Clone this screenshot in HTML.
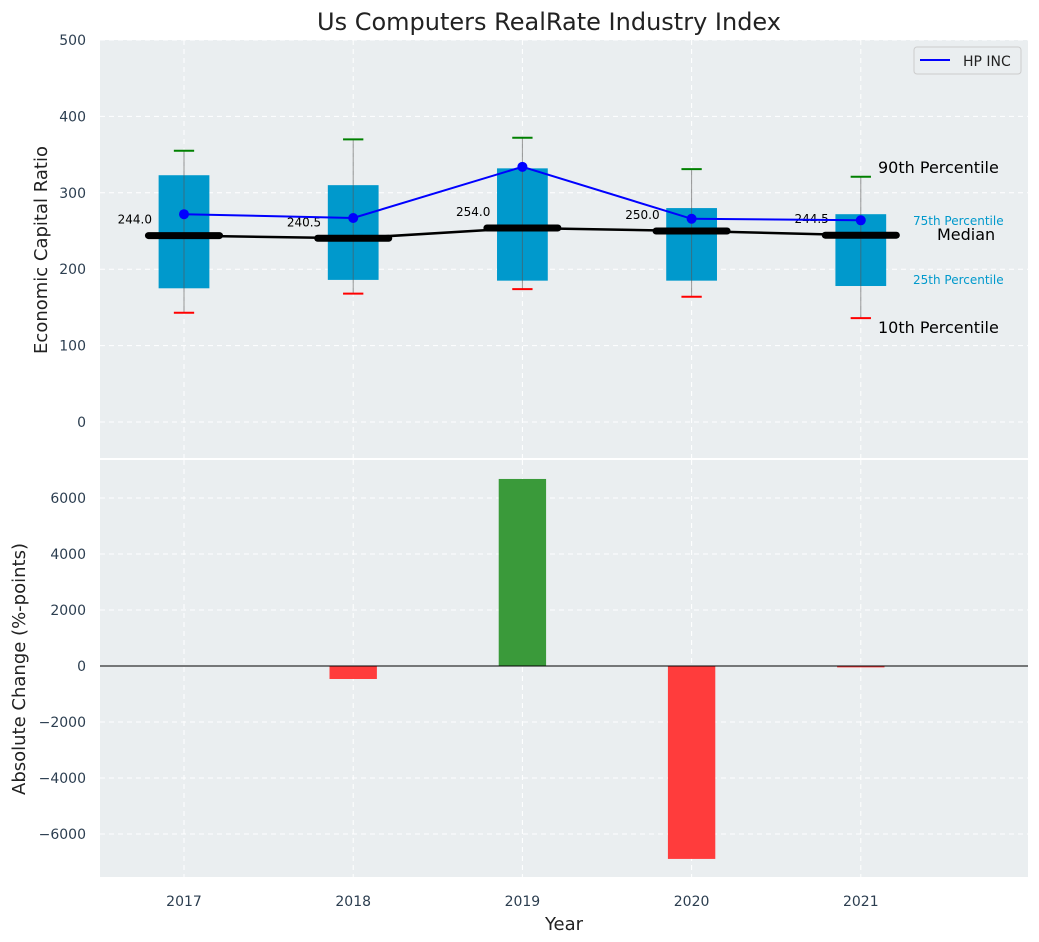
<!DOCTYPE html>
<html><head><meta charset="utf-8"><style>
body{margin:0;background:#fff;}
svg{display:block;font-family:"DejaVu Sans","Liberation Sans",sans-serif;}
</style></head><body>
<svg id="chart" width="1039" height="942" viewBox="0 0 1039 942" xmlns="http://www.w3.org/2000/svg">
<text x="549" y="30" font-size="24" text-anchor="middle" fill="#222">Us Computers RealRate Industry Index</text>
<rect x="100" y="40" width="928" height="418" fill="#eaeef0"/>
<rect x="100" y="460" width="928" height="417" fill="#eaeef0"/>
<g id="topPanel"></g><g id="botPanel"></g>
<text x="47" y="250" font-size="18" fill="#222" text-anchor="middle" transform="rotate(-90 47 250)">Economic Capital Ratio</text>
<text x="25" y="669" font-size="18" fill="#222" text-anchor="middle" transform="rotate(-90 25 669)">Absolute Change (%-points)</text>
<text x="564" y="930" font-size="18" fill="#222" text-anchor="middle">Year</text>
<g>
<rect x="914" y="47" width="107" height="27" rx="3" fill="#eaeef0" stroke="#ccc"/>
<line x1="920" y1="60" x2="950" y2="60" stroke="#0000ff" stroke-width="2"/>
<text x="963" y="66" font-size="14" fill="#222">HP INC</text>
</g>
</svg>
<script>
const years=[2017,2018,2019,2020,2021];
const p10=[143,168,174,164,136];
const q1=[175,186,185,185,178];
const medians=[244.0,240.5,254.0,250.0,244.5];
const q3=[323,310,332,280,272];
const p90=[355,370,372,331,321];
const hp=[272,267,334,266,264];
const changes=[0,-464,6680,-6890,-50];
const topTicks=[0,100,200,300,400,500];
const botTicks=[-6000,-4000,-2000,0,2000,4000,6000];

const NS="http://www.w3.org/2000/svg";
const U=169.2;
const X=v=>184+(v-2017)*U;
const YT=v=>422-v*0.764;
const YB=v=>666-v*0.028;
function mk(p,tag,a,txt){const e=document.createElementNS(NS,tag);for(const k in a)e.setAttribute(k,a[k]);if(txt!==undefined)e.textContent=txt;p.appendChild(e);return e;}
const tp=document.getElementById('topPanel'),bp=document.getElementById('botPanel');
topTicks.forEach(t=>{
 const g=mk(tp,'line',{x1:100,x2:1028,y1:YT(t),y2:YT(t),stroke:'#fff','stroke-dasharray':'5,4','stroke-width':1});
 
 
 const l=mk(tp,'text',{x:86,y:YT(t)+5,'font-size':14,fill:'#2c3e50','text-anchor':'end'},t);
 
 
});
botTicks.forEach(t=>{
 const g=mk(bp,'line',{x1:100,x2:1028,y1:YB(t),y2:YB(t),stroke:'#fff','stroke-dasharray':'5,4','stroke-width':1});
 
 
 const l=mk(bp,'text',{x:86,y:YB(t)+5,'font-size':14,fill:'#2c3e50','text-anchor':'end'},t<0?'\u2212'+(-t):t);
 
 
});
years.forEach(y=>{
 [[40,458],[460,877]].forEach(r=>{
  const g=mk(tp,'line',{x1:X(y),x2:X(y),y1:r[0],y2:r[1],stroke:'#fff','stroke-dasharray':'5,4'});
  
  
 });
 const l=mk(bp,'text',{x:X(y),y:906,'font-size':14,fill:'#2c3e50','text-anchor':'middle'},y);
 
 
});
const bw=0.3*U, mw=0.42*U, cw=0.12*U;
years.forEach((y,i)=>{
 const cx=X(y);
 const b=mk(tp,'rect',{x:cx-bw/2,y:YT(q3[i]),width:bw,height:YT(q1[i])-YT(q3[i]),fill:'#0099cc'});
 
 
 const w=mk(tp,'line',{x1:cx,x2:cx,y1:YT(p10[i]),y2:YT(p90[i]),stroke:'#555','stroke-opacity':0.6,'stroke-width':1});
 
 
 const c1=mk(tp,'line',{x1:cx-cw/2,x2:cx+cw/2,y1:YT(p90[i]),y2:YT(p90[i]),stroke:'#008000','stroke-width':2});
 
 
 const c2=mk(tp,'line',{x1:cx-cw/2,x2:cx+cw/2,y1:YT(p10[i]),y2:YT(p10[i]),stroke:'#ff0000','stroke-width':2});
 
 
});
const ml=mk(tp,'polyline',{points:years.map((y,i)=>X(y)+','+YT(medians[i])).join(' '),fill:'none',stroke:'#000','stroke-width':2.5});


years.forEach((y,i)=>{
 const cx=X(y);
 const m=mk(tp,'line',{x1:cx-mw/2,x2:cx+mw/2,y1:YT(medians[i]),y2:YT(medians[i]),stroke:'#000','stroke-width':7,'stroke-linecap':'round'});
 
 
 const t=mk(tp,'text',{x:cx-32,y:YT(medians[i])-12,'font-size':12,fill:'#000','text-anchor':'end'},medians[i].toFixed(1));
 
 
});
const hl=mk(tp,'polyline',{points:years.map((y,i)=>X(y)+','+YT(hp[i])).join(' '),fill:'none',stroke:'#0000ff','stroke-width':2});


years.forEach((y,i)=>{
 const p=mk(tp,'circle',{cx:X(y),cy:YT(hp[i]),r:5,fill:'#0000ff'});
 
 
});
[['90th Percentile',878,173,16,'#000'],['75th Percentile',913,225,12,'#0099cc'],['Median',937,240,16,'#000'],['25th Percentile',913,284,12,'#0099cc'],['10th Percentile',878,333,16,'#000']].forEach(a=>{
 const t=mk(tp,'text',{x:a[1],y:a[2],'font-size':a[3],fill:a[4]},a[0]);
 
 
});
const bbw=0.28*U;
years.forEach((y,i)=>{
 const v=changes[i];
 const r=mk(bp,'rect',{x:X(y)-bbw/2,y:Math.min(YB(v),YB(0)),width:bbw,height:Math.abs(YB(v)-YB(0)),fill:v>=0?'#3a9a3a':'#ff3c3c'});
 
 
});
const z=mk(bp,'line',{x1:100,x2:1028,y1:YB(0),y2:YB(0),stroke:'#000','stroke-width':1});


</script>
</body></html>
